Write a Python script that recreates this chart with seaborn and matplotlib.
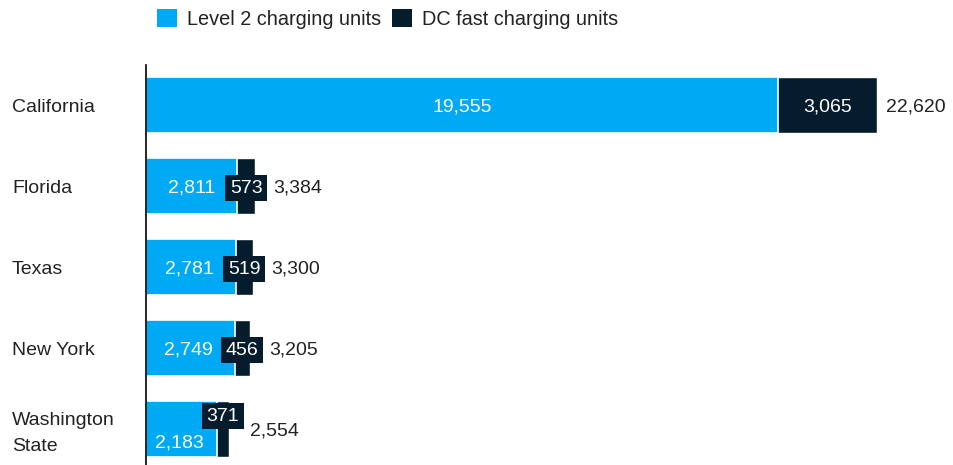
import matplotlib
matplotlib.use("Agg")
import matplotlib.pyplot as plt
import matplotlib.transforms as mtransforms
import seaborn as sns
import pandas as pd
from matplotlib.patches import Patch

states = ["California", "Florida", "Texas", "New York", "Washington\nState"]
level2 = [19555, 2811, 2781, 2749, 2183]
dcfast = [3065, 573, 519, 456, 371]
totals = [22620, 3384, 3300, 3205, 2554]

BLUE = "#00A9F4"
NAVY = "#051C2C"
TEXT = "#222222"

sns.set_theme(style="white")
plt.rcParams["font.family"] = ["Liberation Sans", "DejaVu Sans"]
plt.rcParams["font.size"] = 14

df = pd.DataFrame({"state": states, "level2": level2, "dc": dcfast})
df["stack"] = df["level2"] + df["dc"]

fig = plt.figure(figsize=(9.54, 4.65), dpi=100)
ax = fig.add_axes([146 / 954, 0, 1 - 146 / 954, 400 / 465])

sns.barplot(data=df, x="stack", y="state", orient="h", color=NAVY,
            saturation=1, width=0.69, ax=ax)
sns.barplot(data=df, x="level2", y="state", orient="h", color=BLUE,
            saturation=1, width=0.69, ax=ax, edgecolor="white", linewidth=1.2)

ax.set_xlim(0, 25000)
ax.set_ylim(4.444, -0.494)
ax.set_xlabel("")
ax.set_ylabel("")
ax.set_xticks([])
for s in ["top", "right", "bottom"]:
    ax.spines[s].set_visible(False)
ax.spines["left"].set_color("black")
ax.spines["left"].set_linewidth(1.2)
ax.spines["left"].set_zorder(5)

ax.set_yticks(range(len(states)))
ax.set_yticklabels(states, ha="left", color=TEXT, fontsize=14, linespacing=1.68)
ax.tick_params(axis="y", length=0, pad=(146 - 12) * 0.72)
for lab in ax.get_yticklabels():
    if "\n" in lab.get_text():
        lab.set_transform(lab.get_transform() +
                          mtransforms.ScaledTranslation(0, 2 / 100, fig.dpi_scale_trans))

PT = 0.72  # px -> points at 100 dpi
DY = -2 * PT  # small downward nudge so digits sit on the bar centre
for i, (l2, dc, tot, name) in enumerate(zip(level2, dcfast, totals, states)):
    dy_l2 = DY
    dy_dc = DY
    if name.startswith("Washington"):
        dy_l2 = DY - 12 * PT
        dy_dc = DY + 15 * PT
    # Level 2 label
    if l2 > 10000:
        ax.annotate(f"{l2:,}", xy=(l2 / 2, i), xytext=(0, dy_l2),
                    textcoords="offset points", ha="center", va="center",
                    color="white", fontsize=14)
    else:
        off = -13 if name.startswith("Washington") else -22
        ax.annotate(f"{l2:,}", xy=(l2, i), xytext=(off * PT, dy_l2),
                    textcoords="offset points", ha="right", va="center",
                    color="white", fontsize=14)
    # DC label
    ax.annotate(f"{dc:,}", xy=(l2 + dc / 2, i), xytext=(0, dy_dc),
                textcoords="offset points", ha="center", va="center",
                color="white", fontsize=14, zorder=6,
                bbox=dict(boxstyle="square,pad=0.24", fc=NAVY, ec="none"))
    # Total label
    if dc > 2000:
        ax.annotate(f"{tot:,}", xy=(l2 + dc, i), xytext=(9 * PT, DY),
                    textcoords="offset points", ha="left", va="center",
                    color=TEXT, fontsize=14)
    else:
        ax.annotate(f"{tot:,}", xy=(l2 + dc / 2, i), xytext=(27 * PT, DY),
                    textcoords="offset points", ha="left", va="center",
                    color=TEXT, fontsize=14)

handles = [Patch(facecolor=BLUE, edgecolor="none"), Patch(facecolor=NAVY, edgecolor="none")]
fig.legend(handles, ["Level 2 charging units", "DC fast charging units"],
           loc="upper left", bbox_to_anchor=(157 / 954, 1 - 9 / 465),
           ncol=2, frameon=False, fontsize=14.3, handlelength=1.0, handleheight=1.0,
           handletextpad=0.5, columnspacing=0.55, borderpad=0, borderaxespad=0,
           labelcolor=TEXT)

fig.savefig("out.png", dpi=100)
